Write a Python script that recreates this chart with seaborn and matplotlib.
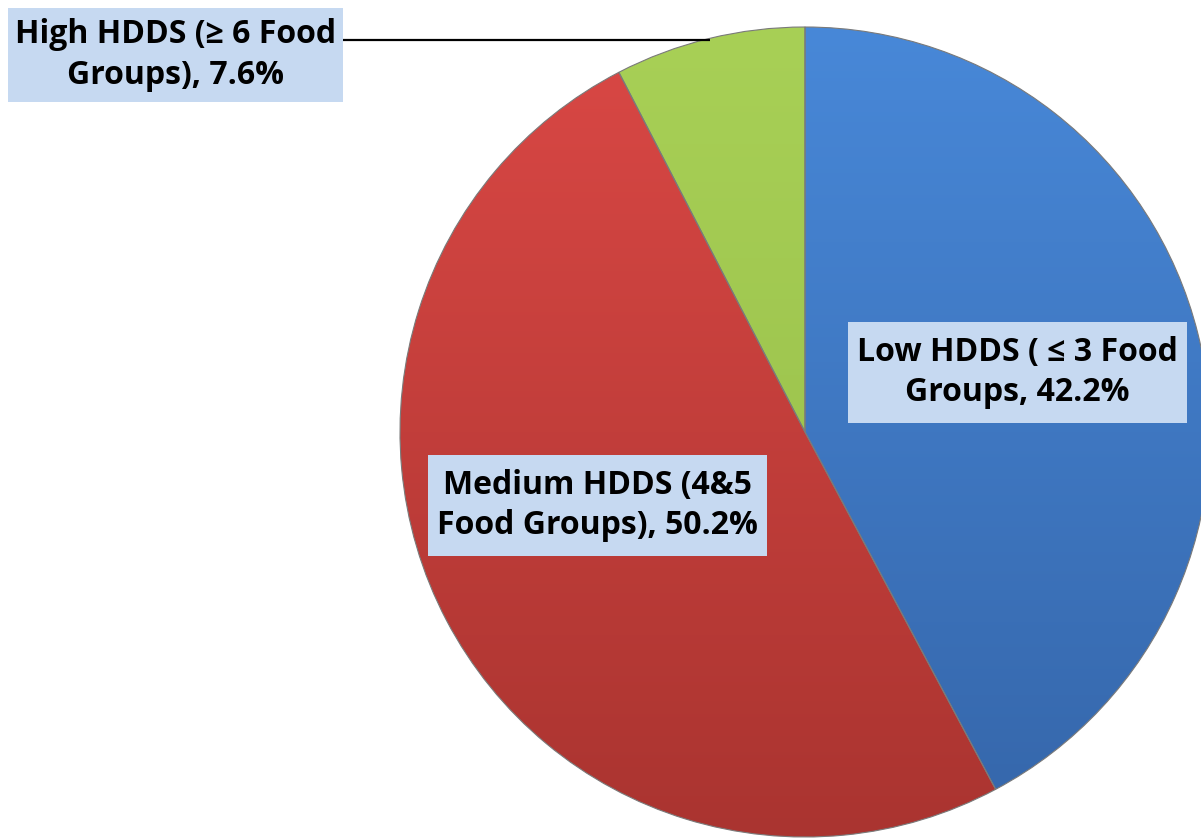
import numpy as np
import matplotlib
matplotlib.use("Agg")
import matplotlib.pyplot as plt
from matplotlib.colors import LinearSegmentedColormap
from matplotlib.patches import Rectangle
import seaborn as sns

# data
categories = ["Low HDDS ( \u2264 3 Food\nGroups", "Medium HDDS (4&5\nFood Groups)", "High HDDS (\u2265 6 Food\nGroups)"]
shares = [42.2, 50.2, 7.6]
top_colors = ["#4888d8", "#da4845", "#a8d056"]
bottom_colors = ["#3566aa", "#aa3430", "#95bb48"]

sns.set_theme(style="white")
plt.rcParams['font.family'] = ['Open Sans', 'DejaVu Sans']

W, H = 1201, 839
fig = plt.figure(figsize=(W / 100, H / 100), dpi=100)
ax = fig.add_axes([0, 0, 1, 1])

# pie geometry in pixel coords (y up)
cx, cy, r = 805, H - 432, 405

wedges, _ = ax.pie(shares, startangle=90, counterclock=False, center=(cx, cy),
                   radius=r, colors=top_colors, frame=True,
                   wedgeprops=dict(edgecolor="#7a7a7a", linewidth=0.8))
ax.set_xlim(0, W)
ax.set_ylim(0, H)
ax.set_aspect('equal')
ax.axis('off')

# vertical shading on each slice
grad = np.linspace(0, 1, 256).reshape(-1, 1)
for w, c0, c1 in zip(wedges, top_colors, bottom_colors):
    cmap = LinearSegmentedColormap.from_list("g", [c1, c0])
    im = ax.imshow(grad, cmap=cmap, origin='lower', aspect='auto',
                   extent=(cx - r, cx + r, cy - r, cy + r), zorder=w.get_zorder() + 0.1)
    im.set_clip_path(w)
    w.set_facecolor('none')
    w.set_zorder(w.get_zorder() + 0.2)
ax.set_xlim(0, W)
ax.set_ylim(0, H)

# label boxes (pixel positions, top-left origin)
boxes = [(848, 322, 339, 101), (428, 455, 339, 101), (8, 8, 335, 94)]
for name, val, (bx, by, bw, bh) in zip(categories, shares, boxes):
    ax.add_patch(Rectangle((bx, H - by - bh), bw, bh, facecolor="#c6d9f1",
                           edgecolor="none", zorder=5))
    ax.text(bx + bw / 2, H - by - bh / 2, f"{name}, {val:.1f}%", ha='center', va='center',
            fontsize=23, fontweight='bold', color='black', linespacing=1.3, zorder=6)

# leader line for the small slice
ax.plot([343, 710], [H - 40, H - 40], color='black', lw=1.6, zorder=4, solid_capstyle='butt')

fig.savefig("out.png", dpi=100)
